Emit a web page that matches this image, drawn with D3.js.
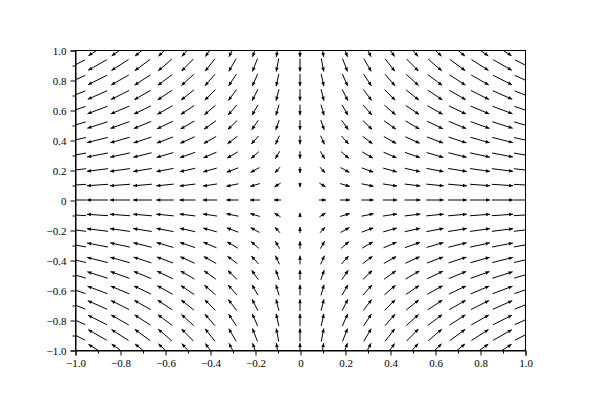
<!DOCTYPE html>
<html lang="en">
<head>
  <meta charset="UTF-8">
  <title>Vector field</title>
  <script src="https://d3js.org/d3.v7.min.js"></script>
  <style>
    body { margin: 0; background: #fff; }
    .tick text { font-family: "Liberation Serif", serif; font-size: 11px; fill: #000; }
    .domain, .tick line { stroke: #000; }
  </style>
</head>
<body>
<div id="chart"></div>
<script>
  // grid positions
  const xs = [-1.0, -0.9, -0.8, -0.7, -0.6, -0.5, -0.4, -0.3, -0.2, -0.1, 0, 0.1, 0.2, 0.3, 0.4, 0.5, 0.6, 0.7, 0.8, 0.9, 1.0];
  const ys = [-1.0, -0.9, -0.8, -0.7, -0.6, -0.5, -0.4, -0.3, -0.2, -0.1, 0, 0.1, 0.2, 0.3, 0.4, 0.5, 0.6, 0.7, 0.8, 0.9, 1.0];
  // horizontal component for each column, vertical component for each row
  const uCol = [-1.0, -0.9, -0.8, -0.7, -0.6, -0.5, -0.4, -0.3, -0.2, -0.1, 0, 0.1, 0.2, 0.3, 0.4, 0.5, 0.6, 0.7, 0.8, 0.9, 1.0];
  const vRow = [0.85, 0.77, 0.68, 0.6, 0.51, 0.43, 0.34, 0.26, 0.17, 0.09, 0, -0.09, -0.17, -0.26, -0.34, -0.43, -0.51, -0.6, -0.68, -0.77, -0.85];
  const majorTicks = [-1.0, -0.8, -0.6, -0.4, -0.2, 0, 0.2, 0.4, 0.6, 0.8, 1.0];
  const minorTicks = [-0.9, -0.7, -0.5, -0.3, -0.1, 0.1, 0.3, 0.5, 0.7, 0.9];

  const width = 600, height = 400;
  const margin = { top: 50, right: 75, bottom: 50, left: 75 };

  const svg = d3.select("#chart").append("svg")
    .attr("width", width)
    .attr("height", height);

  const x = d3.scaleLinear().domain([-1, 1]).range([margin.left, width - margin.right]);
  const y = d3.scaleLinear().domain([-1, 1]).range([height - margin.bottom, margin.top]);
  // arrow length (data units) grows with the square root of the magnitude
  const len = d3.scalePow().exponent(0.5).domain([0, 1]).range([0, 0.1]);

  const fmt = d => d === 0 ? "0" : d3.format(".1f")(d).replace("-", "\u2212");

  svg.append("clipPath").attr("id", "clip")
    .append("rect")
    .attr("x", x(-1)).attr("y", y(1))
    .attr("width", x(1) - x(-1) + 1).attr("height", y(-1) - y(1) + 1);

  const cells = [];
  xs.forEach((xv, i) => ys.forEach((yv, j) => cells.push({ x: xv, y: yv, u: uCol[i], v: vRow[j] })));

  const g = svg.append("g").attr("clip-path", "url(#clip)");
  cells.forEach(c => {
    const m = Math.hypot(c.u, c.v);
    if (m === 0) return;
    const L = len(m);
    const du = c.u / m * L, dv = c.v / m * L;
    // arrow centred on its grid point
    const x0 = x(c.x - du / 2), y0 = y(c.y - dv / 2);
    const x1 = x(c.x + du / 2), y1 = y(c.y + dv / 2);
    g.append("line")
      .attr("x1", x0).attr("y1", y0).attr("x2", x1).attr("y2", y1)
      .attr("stroke", "#000").attr("stroke-width", 1);
    const a = Math.atan2(y1 - y0, x1 - x0);
    const hl = 4, hw = 1.8;
    const bx = x1 - hl * Math.cos(a), by = y1 - hl * Math.sin(a);
    g.append("path")
      .attr("d", `M${x1},${y1}L${bx + hw * Math.sin(a)},${by - hw * Math.cos(a)}L${bx - hw * Math.sin(a)},${by + hw * Math.cos(a)}Z`)
      .attr("fill", "#000");
  });

  // frame
  svg.append("rect")
    .attr("x", x(-1) + 0.5).attr("y", y(1) + 0.5)
    .attr("width", x(1) - x(-1)).attr("height", y(-1) - y(1))
    .attr("fill", "none").attr("stroke", "#000");

  // axes
  svg.append("g")
    .attr("transform", `translate(0.5,${y(-1) + 0.5})`)
    .call(d3.axisBottom(x).tickValues(majorTicks).tickSize(5).tickPadding(4).tickFormat(fmt));
  svg.append("g")
    .attr("transform", `translate(0.5,${y(-1) + 0.5})`)
    .call(d3.axisBottom(x).tickValues(minorTicks).tickSize(3).tickFormat(""))
    .select(".domain").remove();

  svg.append("g")
    .attr("transform", `translate(${x(-1) + 0.5},0.5)`)
    .call(d3.axisLeft(y).tickValues(majorTicks).tickSize(5).tickPadding(4).tickFormat(fmt));
  svg.append("g")
    .attr("transform", `translate(${x(-1) + 0.5},0.5)`)
    .call(d3.axisLeft(y).tickValues(minorTicks).tickSize(3).tickFormat(""))
    .select(".domain").remove();
</script>
</body>
</html>
